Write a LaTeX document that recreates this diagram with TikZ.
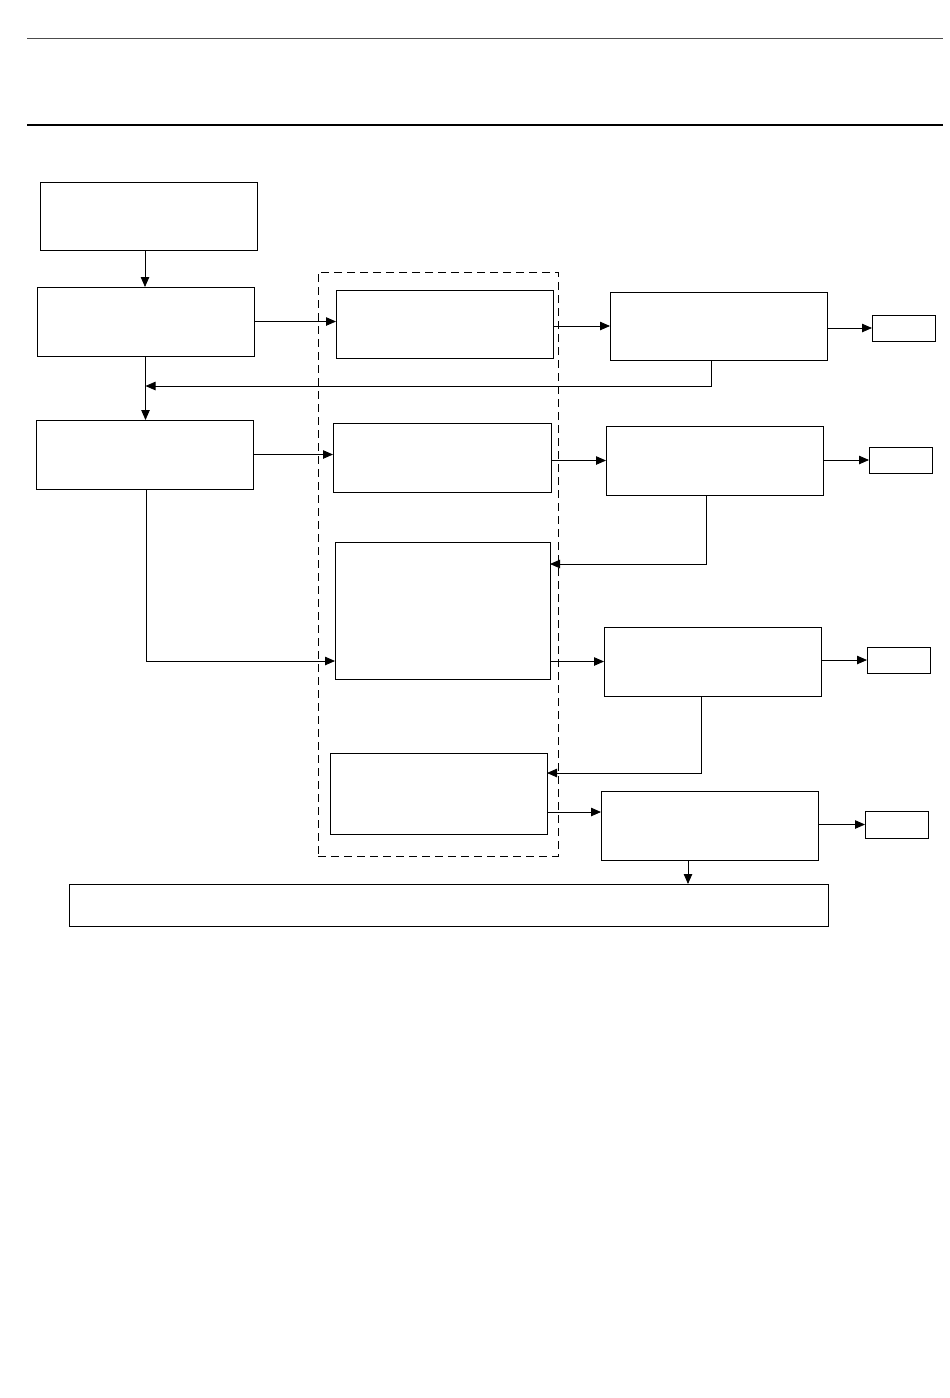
\documentclass[tikz,border=0pt]{standalone}
\usetikzlibrary{arrows.meta,fit}
\begin{document}
\begin{tikzpicture}[x=1pt,y=-1pt,
  box/.style={draw, line width=0.8pt, inner sep=0pt, outer sep=0pt},
  arr/.style={line width=0.8pt, -{Triangle[length=10pt,width=8.5pt]}},
  grp/.style={draw, line width=0.8pt, dash pattern=on 8pt off 5pt, inner sep=0pt, outer sep=0pt}]
\useasboundingbox (0,0) rectangle (950,1398);
% header rules
\draw[line width=0.8pt, black!70] (27,38) -- (943,38);
\draw[line width=1.4pt] (27,125) -- (943,125);
% left column
\node[box, fit={(40,182) (257,250)}] (A) {};
\node[box, fit={(37,287) (254,356)}] (B) {};
\node[box, fit={(36,420) (253,489)}] (C) {};
% dashed group
\node[grp, fit={(318,272) (558,856)}] (G) {};
\node[box, fit={(336,290) (553,358)}] (D1) {};
\node[box, fit={(333,423) (551,492)}] (D2) {};
\node[box, fit={(335,542) (550,679)}] (D3) {};
\node[box, fit={(330,753) (547,834)}] (D4) {};
% right column
\node[box, fit={(610,292) (827,360)}] (R1) {};
\node[box, fit={(606,426) (823,495)}] (R2) {};
\node[box, fit={(604,627) (821,696)}] (R3) {};
\node[box, fit={(601,791) (818,860)}] (R4) {};
% small boxes
\node[box, fit={(872,315) (935,341)}] (S1) {};
\node[box, fit={(869,447) (932,473)}] (S2) {};
\node[box, fit={(867,647) (930,673)}] (S3) {};
\node[box, fit={(865,811) (928,838)}] (S4) {};
% bottom box
\node[box, fit={(69,884) (828,926)}] (Bot) {};
% coordinates
\coordinate (f1) at (711,386);
\coordinate (f2) at (706,564);
\coordinate (f3) at (701,773);
\coordinate (c3) at (146,661);
\coordinate (c4) at (0,812);
% connectors
\draw[arr] ([xshift=105pt]A.south west) -- ([xshift=105pt]A.south west |- B.north);
\draw[arr] (B.south) -- (B.south |- C.north);
\draw[arr] (B.east) -- (B.east -| D1.west);
\draw[arr] (C.east) -- (C.east -| D2.west);
\draw[arr] ([xshift=110pt]C.south west) -- (c3) -- (c3 -| D3.west);
\draw[arr] (R1.west -| D1.east) -- (R1.west);
\draw[arr] (R2.west -| D2.east) -- (R2.west);
\draw[arr] (R3.west -| D3.east) -- (R3.west);
\draw[arr] (D4.east |- c4) -- (R4.west |- c4);
\draw[arr] (S1.west -| R1.east) -- (S1.west);
\draw[arr] (S2.west -| R2.east) -- (S2.west);
\draw[arr] (S3.west -| R3.east) -- (S3.west);
\draw[arr] (S4.west -| R4.east) -- (S4.west);
\draw[arr] ([xshift=101pt]R1.south west) -- (f1) -- (B.south |- f1);
\draw[arr] ([xshift=100pt]R2.south west) -- (f2) -- (f2 -| D3.east);
\draw[arr] ([xshift=97pt]R3.south west) -- (f3) -- (f3 -| D4.east);
\draw[arr] ([xshift=87pt]R4.south west) -- ([xshift=87pt]R4.south west |- Bot.north);
\end{tikzpicture}
\end{document}
